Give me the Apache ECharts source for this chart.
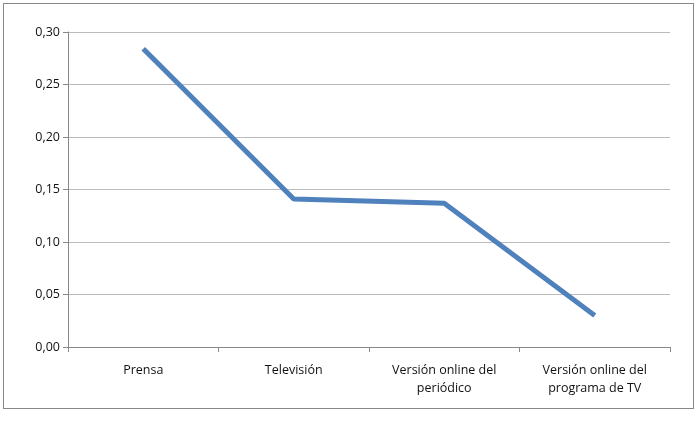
<!DOCTYPE html>
<html><head><meta charset="utf-8">
<script src="https://cdn.jsdelivr.net/npm/echarts@6/dist/echarts.min.js"></script>
<style>body{margin:0;background:#fff}#main{position:absolute;left:3px;top:3px;width:691px;height:406px;border:1px solid #888;box-sizing:border-box}</style>
</head><body><div id="main"></div>
<script>
var categories = ['Prensa', 'Televisión', 'Versión online del\nperiódico', 'Versión online del\nprograma de TV'];
var values = [0.284, 0.141, 0.137, 0.030];

var fmt = function (v) { return v.toFixed(2).replace('.', ','); };
var chart = echarts.init(document.getElementById('main'));
chart.setOption({
    animation: false,
    grid: { left: 64, right: 23, top: 28, bottom: 61 },
    xAxis: {
        type: 'category', data: categories, boundaryGap: true,
        axisLine: { lineStyle: { color: '#888' } },
        axisTick: { show: true, lineStyle: { color: '#888' } },
        axisLabel: { color: '#111', fontFamily: 'Open Sans', fontSize: 12.5, margin: 14, lineHeight: 18 }
    },
    yAxis: {
        type: 'value', min: 0, max: 0.30, interval: 0.05,
        axisLine: { show: true, lineStyle: { color: '#888' } },
        axisTick: { show: true, lineStyle: { color: '#888' } },
        splitLine: { lineStyle: { color: '#bbb' } },
        axisLabel: { color: '#111', fontFamily: 'Open Sans', fontSize: 12.5, formatter: fmt }
    },
    series: [{
        type: 'line', data: values, symbol: 'circle', symbolSize: 2, showSymbol: true,
        itemStyle: { color: '#4f81bd', opacity: 0 },
        lineStyle: { color: '#4f81bd', width: 5 },
        label: { show: true, position: 'right', distance: 0, offset: [4, 4], color: '#111', fontFamily: 'Open Sans', fontSize: 12.5,
                 formatter: function (p) { return fmt(Math.round(p.value * 100) / 100); } }
    }]
});
</script></body></html>
